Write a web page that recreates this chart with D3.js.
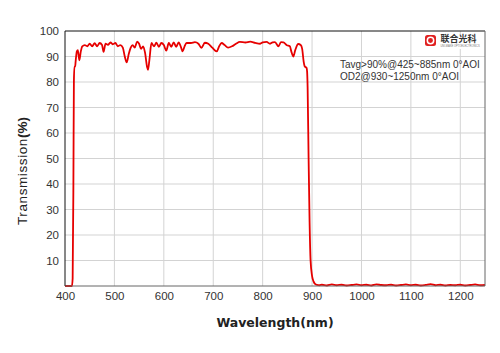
<!DOCTYPE html>
<html>
<head>
<meta charset="utf-8">
<script src="https://cdn.jsdelivr.net/npm/d3@7"></script>
<style>
  body { margin: 0; background: #fff; }
  svg { display: block; font-family: "Liberation Sans", Arial, sans-serif; }
  .tick text { fill: #333; font-size: 11.5px; }
</style>
</head>
<body>
<svg id="chart"></svg>
<script>
// Wavelength (nm) and transmission (%)
const wavelengths = [
  400, 405, 410, 414, 415.5, 417, 418, 419, 420.5, 421.5, 424, 426, 429, 432, 435,
  440, 445, 450, 455, 460, 465, 470, 475, 478, 482, 487, 492, 497, 502, 507,
  512, 517, 521, 525, 529, 533, 537, 541, 546, 550, 554, 558, 562, 566, 568,
  571, 575, 580, 585, 590, 595, 600, 605, 610, 615, 620, 625, 630, 635, 638,
  642, 646, 655, 663, 670, 676, 683, 690, 698, 707, 712, 717, 723, 730, 738,
  746, 754, 765, 775, 785, 795, 800, 808, 815, 820, 825, 832, 837, 842, 849,
  855, 858, 862, 866, 872, 877, 880, 883, 885, 889, 890, 891, 893, 895, 897,
  900, 903, 906, 910, 915, 920, 930, 940, 950, 960, 970, 980, 990, 1000, 1010,
  1020, 1030, 1040, 1050, 1060, 1070, 1080, 1090, 1100, 1110, 1120, 1130, 1140, 1150, 1160,
  1170, 1180, 1190, 1200, 1210, 1220, 1230, 1240, 1250
];
const transmission = [
  0, 0, 0, 0, 3, 40, 80, 86, 86, 88, 92, 92.5, 88.5, 92, 94,
  94.5, 94, 95, 94, 95.2, 94, 95.3, 94.5, 91.8, 95, 94.6, 95.5, 94.8, 95.3, 94,
  94.5, 93.5, 90, 87.7, 91, 93.5, 94.5, 93.5, 95.8, 95, 93, 94, 91.5, 86, 84.8,
  89, 95.3, 94, 95.4, 93.8, 95.3, 94.5, 92.3, 95.3, 93.8, 95.5, 93.8, 95.5, 93.5, 92,
  94, 95.3, 95.3, 95.6, 95, 93.4, 95.4, 95, 93.5, 92, 94, 95.3, 94.5, 93.5, 94,
  95, 95.7, 95.5, 95.8, 95.3, 95, 95.5, 95.7, 95, 95.5, 95.6, 94, 95.6, 95.5, 94.4,
  94, 92, 90, 92.5, 94.9, 94.5, 93, 88, 86.2, 85.5, 84, 78, 50, 25, 10,
  4, 1.8, 0.8, 0.4, 0.3, 0.5, 0.2, 0.6, 0.3, 0.5, 0.2, 0.4, 0.6, 0.3, 0.5,
  0.2, 0.6, 0.4, 0.3, 0.5, 0.2, 0.4, 0.6, 0.3, 0.5, 0.2, 0.4, 0.7, 0.3, 0.5,
  0.2, 0.4, 0.3, 0.5, 0.2, 0.4, 0.6, 0.3, 0.4
];
const xTicks = [400, 500, 600, 700, 800, 900, 1000, 1100, 1200];
const yTicks = [10, 20, 30, 40, 50, 60, 70, 80, 90, 100];
const notes = ['Tavg>90%@425~885nm 0°AOI', 'OD2@930~1250nm 0°AOI'];

const width = 500, height = 353;
const margin = {top: 31, right: 15, bottom: 67, left: 65};
const innerW = width - margin.left - margin.right;
const innerH = height - margin.top - margin.bottom;

const svg = d3.select('#chart')
    .attr('width', width)
    .attr('height', height);

const chart = svg.append('g')
    .attr('transform', `translate(${margin.left},${margin.top})`);

const xScale = d3.scaleLinear().domain([400, 1250]).range([0, innerW]);
const yScale = d3.scaleLinear().domain([0, 100]).range([innerH, 0]);

// Gridlines
chart.append('g')
    .selectAll('line')
    .data(xTicks.slice(1))
  .join('line')
    .attr('x1', d => xScale(d)).attr('x2', d => xScale(d))
    .attr('y1', 0).attr('y2', innerH)
    .attr('stroke', '#d3d3d3');

chart.append('g')
    .selectAll('line')
    .data(yTicks.slice(0, -1))
  .join('line')
    .attr('x1', 0).attr('x2', innerW)
    .attr('y1', d => yScale(d)).attr('y2', d => yScale(d))
    .attr('stroke', '#d3d3d3');

// Axes (labels only)
chart.append('g')
    .attr('transform', `translate(0,${innerH})`)
    .call(d3.axisBottom(xScale).tickValues(xTicks).tickFormat(d3.format('d')).tickSize(0).tickPadding(6))
    .call(g => g.select('.domain').remove());

chart.append('g')
    .call(d3.axisLeft(yScale).tickValues(yTicks).tickSize(0).tickPadding(6))
    .call(g => g.select('.domain').remove());

// Curve
const points = wavelengths.map((w, i) => ({w: w, t: transmission[i]}));
chart.append('path')
    .datum(points)
    .attr('fill', 'none')
    .attr('stroke', '#e60000')
    .attr('stroke-width', 1.8)
    .attr('stroke-linejoin', 'round')
    .attr('d', d3.line().x(d => xScale(d.w)).y(d => yScale(d.t)).curve(d3.curveMonotoneX));

// Frame
chart.append('line').attr('x1', 0).attr('x2', innerW).attr('y1', 0).attr('y2', 0).attr('stroke', '#111');
chart.append('line').attr('x1', 0).attr('x2', 0).attr('y1', 0).attr('y2', innerH).attr('stroke', '#111');
chart.append('line').attr('x1', innerW).attr('x2', innerW).attr('y1', 0).attr('y2', innerH).attr('stroke', '#666');
chart.append('line').attr('x1', 0).attr('x2', innerW).attr('y1', innerH).attr('y2', innerH).attr('stroke', '#666');

// Annotation
chart.append('g')
    .selectAll('text')
    .data(notes)
  .join('text')
    .attr('x', 275)
    .attr('y', (d, i) => 37 + i * 12)
    .attr('font-size', 10)
    .attr('fill', '#333')
    .text(d => d);

// Logo
const logo = svg.append('g').attr('transform', 'translate(425,35)');
logo.append('rect').attr('x', -1).attr('y', -1).attr('width', 54).attr('height', 15).attr('fill', '#fff');
logo.append('rect').attr('width', 11).attr('height', 11).attr('rx', 2.5).attr('fill', '#e02020');
logo.append('circle').attr('cx', 5.5).attr('cy', 5.5).attr('r', 3.2).attr('fill', 'none')
    .attr('stroke', '#fff').attr('stroke-width', 1.5);
logo.append('text')
    .attr('x', 15.5).attr('y', 7.3)
    .attr('font-family', '"Noto Sans CJK SC", sans-serif')
    .attr('font-size', 9).attr('font-weight', 'bold').attr('fill', '#333')
    .text('联合光科');
logo.append('text')
    .attr('x', 15.5).attr('y', 12.4)
    .attr('font-size', 2.6).attr('fill', '#777')
    .text('UNI-MAKE  OPTOELECTRONICS');

// Axis titles
svg.append('text')
    .attr('x', 275).attr('y', 327)
    .attr('text-anchor', 'middle')
    .attr('font-family', '"DejaVu Sans", sans-serif')
    .attr('font-size', 12.5).attr('font-weight', 'bold').attr('fill', '#222')
    .text('Wavelength(nm)');

const yTitle = svg.append('text')
    .attr('transform', 'translate(27,171) rotate(-90)')
    .attr('text-anchor', 'middle')
    .attr('font-size', 13.5).attr('fill', '#222');
yTitle.append('tspan').attr('letter-spacing', 0.6).text('Transmission');
yTitle.append('tspan').attr('font-weight', 'bold').text('(%)');
</script>
</body>
</html>
